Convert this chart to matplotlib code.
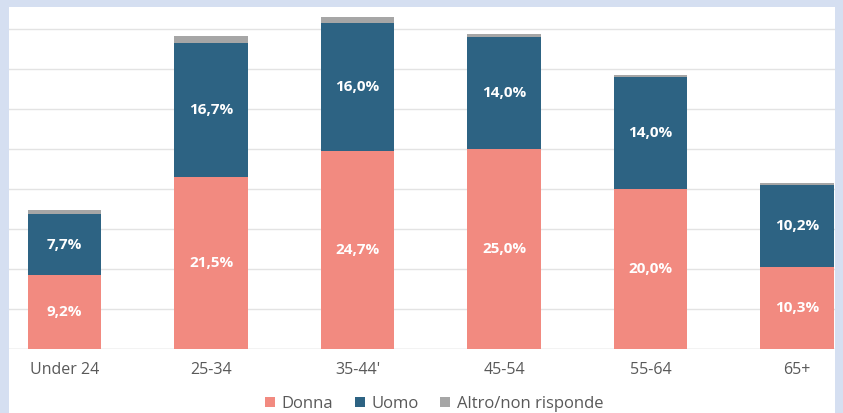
import matplotlib.pyplot as plt
from matplotlib.patches import Rectangle
import numpy as np

plt.rcParams['font.family'] = ['Open Sans', 'DejaVu Sans']

# Age groups and shares (%) per gender
categories = ["Under 24", "25-34", "35-44'", "45-54", "55-64", "65+"]
donna = [9.2, 21.5, 24.7, 25.0, 20.0, 10.3]
uomo = [7.7, 16.7, 16.0, 14.0, 14.0, 10.2]
altro = [0.5, 0.9, 0.8, 0.4, 0.3, 0.3]

c_donna = "#F28A80"
c_uomo = "#2D6383"
c_altro = "#A6A6A6"

W, H = 843, 413
fig = plt.figure(figsize=(W / 100, H / 100), dpi=100, facecolor="#D5DFF1")
# white panel inside the light blue frame
panel = Rectangle((9 / W, 0), (835 - 9) / W, (H - 7) / H,
                  transform=fig.transFigure, facecolor="white",
                  edgecolor="none", zorder=-1)
fig.add_artist(panel)

ax = fig.add_axes([9 / W, (H - 349) / H, (835 - 9) / W, (349 - 7) / H])
ax.set_zorder(1)
ax.set_facecolor("none")

x = np.arange(len(categories))
w = 0.5
b1 = ax.bar(x, donna, w, color=c_donna, label="Donna", zorder=2)
b2 = ax.bar(x, uomo, w, bottom=donna, color=c_uomo, label="Uomo", zorder=2)
bottom3 = [d + u for d, u in zip(donna, uomo)]
b3 = ax.bar(x, altro, w, bottom=bottom3, color=c_altro,
            label="Altro/non risponde", zorder=2)

for i in x:
    ax.text(i, donna[i] / 2, f"{donna[i]:.1f}%".replace(".", ","),
            ha="center", va="center", color="white", fontsize=11,
            fontweight="bold", zorder=3)
    ax.text(i, donna[i] + uomo[i] / 2, f"{uomo[i]:.1f}%".replace(".", ","),
            ha="center", va="center", color="white", fontsize=11,
            fontweight="bold", zorder=3)

ax.set_xlim(-0.38, 5.26)
ax.set_ylim(0, 42.75)
ax.set_yticks(np.arange(0, 41, 5))
ax.yaxis.grid(True, color="#E3E3E3", linewidth=1, zorder=0)
ax.tick_params(axis="y", left=False, labelleft=False)
ax.tick_params(axis="x", length=0, pad=9, labelsize=11.5, labelcolor="#595959")
ax.set_xticks(x)
ax.set_xticklabels(categories)
for s in ax.spines.values():
    s.set_visible(False)
ax.axhline(0, color="#D9D9D9", linewidth=1, zorder=1)

fig.legend(handles=[b1, b2, b3], loc="center", bbox_to_anchor=(434 / W, 1 - 404 / H),
           ncol=3, frameon=False, fontsize=12, handlelength=0.6, handleheight=0.6,
           handletextpad=0.4, columnspacing=1.3, labelcolor="#595959")

fig.savefig("out.png", dpi=100, facecolor=fig.get_facecolor())
